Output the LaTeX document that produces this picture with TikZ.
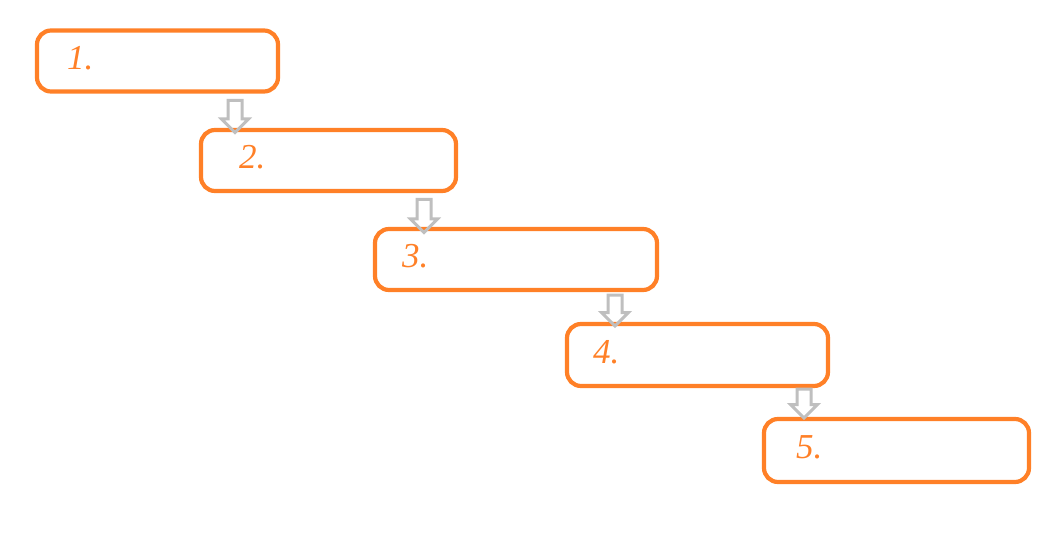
\documentclass[tikz,border=0pt]{standalone}
\usepackage{fontspec}
\setmainfont{Liberation Serif}
\usepackage{tikz}
\usetikzlibrary{arrows.meta, positioning, shapes.arrows}
\definecolor{steporange}{RGB}{255,128,39}

\begin{document}
\begin{tikzpicture}[
    x=1pt, y=-1pt,
    stepbox/.style={rectangle, rounded corners=14pt, draw=steporange, line width=4.2pt, minimum height=61pt},
    num/.style={text=steporange, font=\fontsize{35}{40}\selectfont\itshape, inner sep=0pt, yshift=3pt},
    downarrow/.style={single arrow, shape border rotate=270, draw=gray!50, line width=3pt,
        inner xsep=5.5pt, inner ysep=0pt, single arrow head extend=6.5pt, minimum height=30pt}
]
    \useasboundingbox (0,0) rectangle (1044,548);

    % 五个步骤框
    \node[stepbox, minimum width=241pt] (b1) at (157.5, 61) {};
    \node[stepbox, minimum width=255pt] (b2) at (328.5, 160.5) {};
    \node[stepbox, minimum width=282pt] (b3) at (516, 259.5) {};
    \node[stepbox, minimum width=261pt, minimum height=62pt] (b4) at (697.5, 355) {};
    \node[stepbox, minimum width=265pt, minimum height=63pt] (b5) at (896.5, 450.5) {};

    % 编号
    \node[num, right=32pt of b1.west] (n1) {1.};
    \node[num, right=40pt of b2.west] (n2) {2.};
    \node[num, right=29pt of b3.west] (n3) {3.};
    \node[num, right=28pt of b4.west] (n4) {4.};
    \node[num, right=34pt of b5.west] (n5) {5.};

    % 箭头
    \node[downarrow, minimum height=32pt] (a1) at (235, 113) {};
    \node[downarrow, minimum height=33pt] (a2) at (424, 212.5) {};
    \node[downarrow, minimum height=31pt] (a3) at (615, 307) {};
    \node[downarrow, minimum height=29pt] (a4) at (804, 400) {};
\end{tikzpicture}
\end{document}
